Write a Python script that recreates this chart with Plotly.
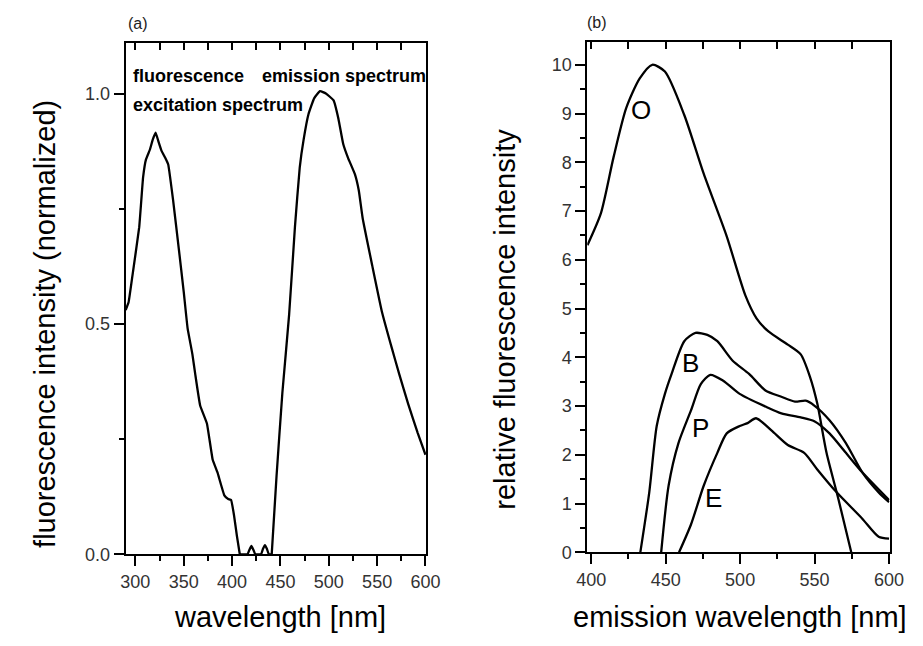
import plotly.graph_objects as go

W, H = 923, 646

# ---------------- data: panel (a) ----------------
ex_wl = [290, 293, 297, 304, 308, 311, 315, 318, 321, 324, 327, 331, 334, 339, 345, 350, 354, 359,
         362, 367, 374, 380, 385, 392, 396, 399, 402, 405, 408]
ex_val = [0.53, 0.547, 0.605, 0.71, 0.818, 0.857, 0.878, 0.9, 0.915, 0.895, 0.876, 0.86, 0.846,
          0.769, 0.662, 0.57, 0.491, 0.434, 0.39, 0.323, 0.284, 0.205, 0.177, 0.128, 0.12, 0.118,
          0.085, 0.04, 0.0]

gap_wl = [408, 416, 418, 420, 422, 424, 430, 432, 434, 436, 438, 441]
gap_val = [0.0, 0.0, 0.01, 0.018, 0.01, 0.0, 0.0, 0.012, 0.02, 0.012, 0.0, 0.0]

em_wl = [441, 446, 452, 459, 465, 470, 474, 479, 485, 491, 497, 505, 510, 515, 520, 527, 531, 535,
         545, 555, 565, 573, 582, 592, 600]
em_val = [0.0, 0.17, 0.35, 0.52, 0.71, 0.84, 0.90, 0.955, 0.99, 1.005, 1.0, 0.985, 0.945, 0.89,
          0.86, 0.825, 0.79, 0.73, 0.626, 0.526, 0.449, 0.39, 0.327, 0.263, 0.216]

# ---------------- data: panel (b) ----------------
O_wl = [397.5, 406.5, 415, 423.5, 432.6, 441, 449.5, 462.5, 475.6, 491, 503.5, 511, 519, 532, 540.7,
        547, 551.8, 558, 566, 574.6]
O_val = [6.3, 6.95, 8.1, 9.11, 9.72, 10.0, 9.86, 8.97, 7.76, 6.48, 5.27, 4.8, 4.53, 4.26, 4.06,
         3.59, 3.05, 2.04, 1.09, 0.0]

B_wl = [433, 439, 444, 449.5, 454, 462.5, 470, 478, 484.7, 495, 506, 517, 527.7, 536.8, 544, 549.8,
        560, 571, 582, 593, 600]
B_val = [0.0, 1.23, 2.59, 3.25, 3.66, 4.33, 4.5, 4.46, 4.33, 3.93, 3.66, 3.32, 3.19, 3.09, 3.11,
         3.01, 2.71, 2.24, 1.64, 1.23, 1.03]

P_wl = [447, 452, 458.6, 467, 473.6, 480, 488.6, 499.7, 517, 527.7, 540.7, 549.8, 560, 571, 582, 600]
P_val = [0.0, 1.37, 2.24, 2.91, 3.45, 3.64, 3.52, 3.25, 2.99, 2.85, 2.77, 2.69, 2.44, 2.04, 1.64, 1.07]

E_wl = [459, 467, 475.6, 484.7, 491, 499.7, 505, 510.7, 521, 532, 543, 551.8, 564.8, 582, 593, 600]
E_val = [0.0, 0.57, 1.37, 2.04, 2.44, 2.59, 2.65, 2.75, 2.5, 2.2, 2.04, 1.7, 1.23, 0.69, 0.32, 0.28]

curve_labels = ["O", "B", "P", "E"]

# ---------------- tick values ----------------
xa_major = [300, 350, 400, 450, 500, 550, 600]
xa_minor = [325, 375, 425, 475, 525, 575]
ya_major = [0.0, 0.5, 1.0]
ya_minor = [0.25, 0.75]
xb_major = [400, 450, 500, 550, 600]
xb_minor = [425, 475, 525, 575]
yb_major = [0, 1, 2, 3, 4, 5, 6, 7, 8, 9, 10]
yb_minor = [0.5, 1.5, 2.5, 3.5, 4.5, 5.5, 6.5, 7.5, 8.5, 9.5]

# ---------------- helpers ----------------
def px_x(p):
    return p / W

def px_y(p):
    return 1 - p / H

FONT = "Liberation Sans"
LW = 2.3

fig = go.Figure()

def line(wl, v, xa, ya, smooth):
    fig.add_trace(go.Scatter(x=wl, y=v, mode="lines",
                             line=dict(color="black", width=LW, shape="spline", smoothing=smooth),
                             xaxis=xa, yaxis=ya, showlegend=False))

line(ex_wl, ex_val, "x", "y", 0.3)
line(em_wl, em_val, "x3", "y3", 0.4)
line(gap_wl, gap_val, "x5", "y", 0.3)

line(O_wl, O_val, "x2", "y2", 0.7)
line(B_wl, B_val, "x4", "y4", 0.7)
line(P_wl, P_val, "x6", "y2", 0.7)
line(E_wl, E_val, "x2", "y2", 0.7)

tickfont = dict(family=FONT, size=18, color="#333")

dom_ax = [px_x(118), px_x(427)]
dom_ay = [px_y(563), px_y(44)]
dom_bx = [px_x(593), px_x(904)]
dom_by = [px_y(561), px_y(43)]

XA_RANGE = [290, 600.5]
XB_RANGE = [397.4, 600.3]
YA_RANGE = [0, 1.109]
YB_RANGE = [0, 10.46]

def label_axis(domain, rng, anchor, vals, text):
    return dict(domain=domain, range=rng, anchor=anchor,
                tickmode="array", tickvals=vals, ticktext=text,
                showline=True, linecolor="black", linewidth=2, mirror=True, showgrid=False,
                zeroline=False, ticks="outside", ticklen=10, tickwidth=2, tickcolor="black",
                tickfont=tickfont)

def tick_axis(over, anchor, side, rng, vals, ticks, ticklen):
    return dict(overlaying=over, anchor=anchor, side=side, range=rng,
                tickmode="array", tickvals=vals,
                showticklabels=False, showgrid=False, zeroline=False, showline=False,
                ticks=ticks, ticklen=ticklen, tickwidth=2, tickcolor="black")

fig.update_layout(
    width=W, height=H,
    margin=dict(l=0, r=0, t=0, b=0),
    paper_bgcolor="white", plot_bgcolor="white",
    xaxis=label_axis(dom_ax, XA_RANGE, "y", xa_major, [str(v) for v in xa_major]),
    yaxis=label_axis(dom_ay, YA_RANGE, "x", ya_major, ["%.1f" % v for v in ya_major]),
    xaxis3=tick_axis("x", "y", "bottom", XA_RANGE, xa_minor, "outside", 6),
    yaxis3=tick_axis("y", "x", "left", YA_RANGE, ya_minor, "outside", 6),
    xaxis5=tick_axis("x", "y", "top", XA_RANGE, xa_major + xa_minor, "inside", 7),
    xaxis2=label_axis(dom_bx, XB_RANGE, "y2", xb_major, [str(v) for v in xb_major]),
    yaxis2=label_axis(dom_by, YB_RANGE, "x2", yb_major, [str(v) for v in yb_major]),
    xaxis4=tick_axis("x2", "y2", "bottom", XB_RANGE, xb_minor, "outside", 6),
    yaxis4=tick_axis("y2", "x2", "left", YB_RANGE, yb_minor, "outside", 6),
    xaxis6=tick_axis("x2", "y2", "top", XB_RANGE, xb_major + xb_minor, "inside", 7),
)

ann = []

def add_text(text, x, y, size, bold=False, angle=0, xanchor="center", color="black"):
    ann.append(dict(text=("<b>%s</b>" % text) if bold else text, x=px_x(x), y=px_y(y),
                    xref="paper", yref="paper", xanchor=xanchor, yanchor="middle",
                    showarrow=False, textangle=angle,
                    font=dict(family=FONT, size=size, color=color)))

add_text("(a)", 118, 24, 16, xanchor="left", color="#222")
add_text("(b)", 591, 23, 16, xanchor="left", color="#222")

add_text("wavelength [nm]", 277, 627, 29)
add_text("emission wavelength [nm]", 750, 627, 29)
add_text("fluorescence intensity (normalized)", 35, 329, 29, angle=-90)
add_text("relative fluorescence intensity", 508, 324, 29, angle=-90)

add_text("fluorescence", 123, 77, 18, bold=True, xanchor="left")
add_text("emission spectrum", 256, 77, 18, bold=True, xanchor="left")
add_text("excitation spectrum", 123, 107, 18, bold=True, xanchor="left")

lab_pos = [(648, 112), (699, 369), (709, 435), (723, 506)]
for lab, (lx, ly) in zip(curve_labels, lab_pos):
    add_text(lab, lx, ly, 26)

fig.update_layout(annotations=ann)

fig.write_html("out.html")
